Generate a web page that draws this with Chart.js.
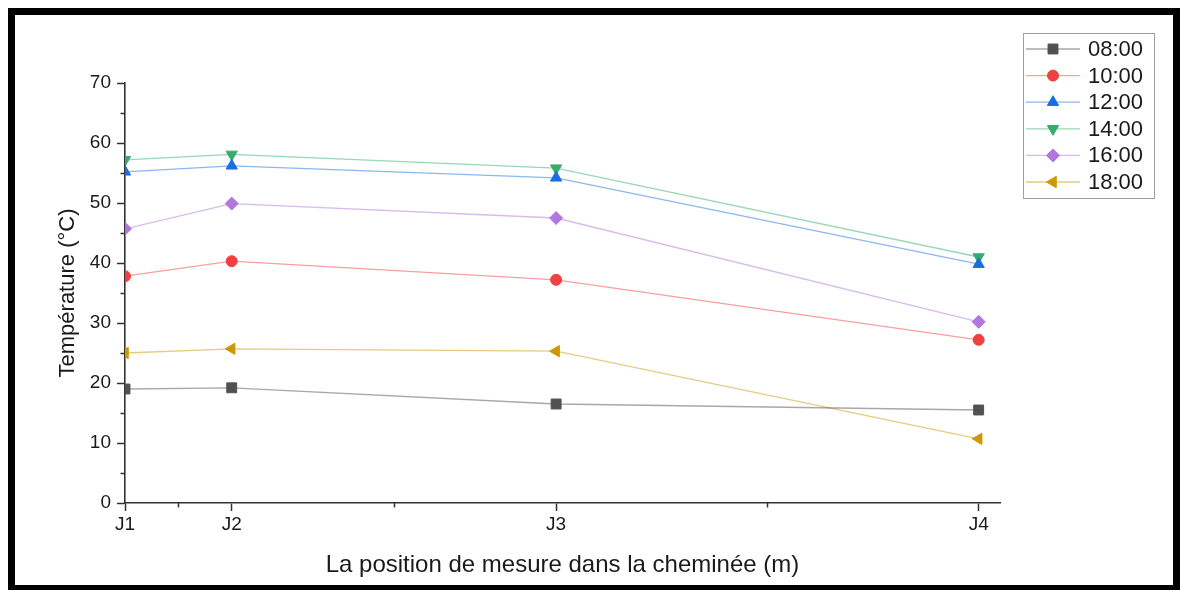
<!DOCTYPE html>
<html>
<head>
<meta charset="utf-8">
<script src="https://cdn.jsdelivr.net/npm/chart.js@4.4.1/dist/chart.umd.min.js"></script>
<style>
  html, body { margin: 0; padding: 0; background: #fff; }
  #wrap { width: 1183px; height: 590px; position: relative; }
</style>
</head>
<body>
<div id="wrap"><canvas id="c"></canvas></div>
<script>
// ---- data ----
const categories = ['J1', 'J2', 'J3', 'J4'];
const positions = [0, 0.25, 1.01, 2.0];
const seriesNames = ['08:00', '10:00', '12:00', '14:00', '16:00', '18:00'];
const t0800 = [19.0, 19.2, 16.5, 15.5];
const t1000 = [37.8, 40.3, 37.2, 27.2];
const t1200 = [55.2, 56.2, 54.2, 39.8];
const t1400 = [57.2, 58.1, 55.8, 41.0];
const t1600 = [45.7, 49.9, 47.5, 30.2];
const t1800 = [25.0, 25.7, 25.3, 10.7];
const yMin = 0, yMax = 70, yStep = 10;

// ---- styles ----
const FONT = '"Liberation Sans", Arial, sans-serif';
const markerColors = ['#515151', '#F14040', '#1A6FDF', '#37AD6B', '#B177DE', '#CC9900'];
const lineColors = ['rgba(81,81,81,0.5)', 'rgba(241,64,64,0.5)', 'rgba(26,111,223,0.5)',
                    'rgba(55,173,107,0.5)', 'rgba(177,119,222,0.5)', 'rgba(204,153,0,0.5)'];
const styles = [
  { pointStyle: 'rect', rotation: 0, radius: 7 },
  { pointStyle: 'circle', rotation: 0, radius: 5.5 },
  { pointStyle: 'triangle', rotation: 0, radius: 6.5 },
  { pointStyle: 'triangle', rotation: 180, radius: 6.5 },
  { pointStyle: 'rectRot', rotation: 0, radius: 6.5 },
  { pointStyle: 'triangle', rotation: 270, radius: 6.5 }
];
const allSeries = [t0800, t1000, t1200, t1400, t1600, t1800];

const datasets = allSeries.map((arr, k) => ({
  label: seriesNames[k],
  data: positions.map((x, i) => ({ x: x, y: arr[i] })),
  borderColor: lineColors[k],
  backgroundColor: markerColors[k],
  pointBackgroundColor: markerColors[k],
  pointBorderColor: markerColors[k],
  pointBorderWidth: 1,
  pointStyle: styles[k].pointStyle,
  pointRotation: styles[k].rotation,
  pointRadius: styles[k].radius,
  pointHoverRadius: styles[k].radius,
  borderWidth: 1.3,
  tension: 0,
  clip: 0
}));

const decorPlugin = {
  id: 'decor',
  beforeDraw(chart) {
    const ctx = chart.ctx;
    ctx.save();
    ctx.fillStyle = '#fff';
    ctx.fillRect(0, 0, chart.width, chart.height);
    ctx.restore();
  },
  afterDraw(chart) {
    const ctx = chart.ctx;
    const xs = chart.scales.x, ys = chart.scales.y;
    const area = chart.chartArea;
    ctx.save();
    // minor ticks
    ctx.strokeStyle = '#333';
    ctx.lineWidth = 1.5;
    ctx.beginPath();
    for (let v = yMin + yStep / 2; v < yMax; v += yStep) {
      const py = Math.round(ys.getPixelForValue(v)) + 0.5;
      ctx.moveTo(area.left - 4.5, py);
      ctx.lineTo(area.left, py);
    }
    for (let i = 0; i < positions.length - 1; i++) {
      const px = Math.round(xs.getPixelForValue((positions[i] + positions[i + 1]) / 2)) + 0.5;
      ctx.moveTo(px, area.bottom);
      ctx.lineTo(px, area.bottom + 4.5);
    }
    ctx.stroke();

    // legend
    const bx = 1023.5, by = 33.5, bw = 131, bh = 165;
    ctx.strokeStyle = '#a0a0a0';
    ctx.lineWidth = 1;
    ctx.strokeRect(bx, by, bw, bh);
    ctx.font = '22px ' + FONT;
    ctx.textBaseline = 'middle';
    ctx.textAlign = 'left';
    for (let k = 0; k < seriesNames.length; k++) {
      const y = 49 + k * 26.6;
      ctx.strokeStyle = lineColors[k];
      ctx.lineWidth = 1.3;
      ctx.beginPath();
      ctx.moveTo(1026, y);
      ctx.lineTo(1080, y);
      ctx.stroke();
      ctx.fillStyle = markerColors[k];
      ctx.strokeStyle = markerColors[k];
      ctx.lineWidth = 1;
      Chart.helpers.drawPoint(ctx, {
        pointStyle: styles[k].pointStyle,
        rotation: styles[k].rotation,
        radius: styles[k].radius,
        borderWidth: 1
      }, 1053, y);
      ctx.fillStyle = '#1a1a1a';
      ctx.fillText(seriesNames[k], 1088, y + 1);
    }

    // frame
    ctx.strokeStyle = '#000';
    ctx.lineWidth = 7;
    ctx.strokeRect(11.5, 11.5, 1165, 577);
    ctx.restore();
  }
};

new Chart(document.getElementById('c'), {
  type: 'line',
  data: { datasets: datasets },
  plugins: [decorPlugin],
  options: {
    responsive: true,
    maintainAspectRatio: false,
    animation: false,
    layout: { padding: { top: 83, right: 183, left: 0, bottom: 0 } },
    plugins: { legend: { display: false }, tooltip: { enabled: false } },
    scales: {
      x: {
        type: 'linear',
        min: 0,
        max: 2.05,
        afterBuildTicks(scale) {
          scale.ticks = positions.map(v => ({ value: v }));
        },
        afterFit(scale) { scale.height = 87; },
        ticks: {
          callback: (v, i) => categories[i],
          font: { family: FONT, size: 19 },
          color: '#1a1a1a',
          padding: 2,
          maxRotation: 0,
          autoSkip: false
        },
        grid: { drawOnChartArea: false, drawTicks: true, tickLength: 8, tickColor: '#333', tickWidth: 1.5 },
        border: { display: true, color: '#333', width: 1.6 },
        title: {
          display: true,
          text: 'La position de mesure dans la cheminée (m)',
          font: { family: FONT, size: 24 },
          color: '#1a1a1a',
          padding: { top: 0, bottom: 10 }
        }
      },
      y: {
        min: yMin,
        max: yMax,
        afterFit(scale) { scale.width = 125; },
        ticks: {
          stepSize: yStep,
          font: { family: FONT, size: 19 },
          color: '#1a1a1a',
          padding: 6
        },
        grid: { drawOnChartArea: false, drawTicks: true, tickLength: 8, tickColor: '#333', tickWidth: 1.5 },
        border: { display: true, color: '#333', width: 1.6 },
        title: {
          display: true,
          text: 'Température (°C)',
          font: { family: FONT, size: 22 },
          color: '#1a1a1a',
          padding: { top: 55, bottom: 0 }
        }
      }
    }
  }
});
</script>
</body>
</html>
